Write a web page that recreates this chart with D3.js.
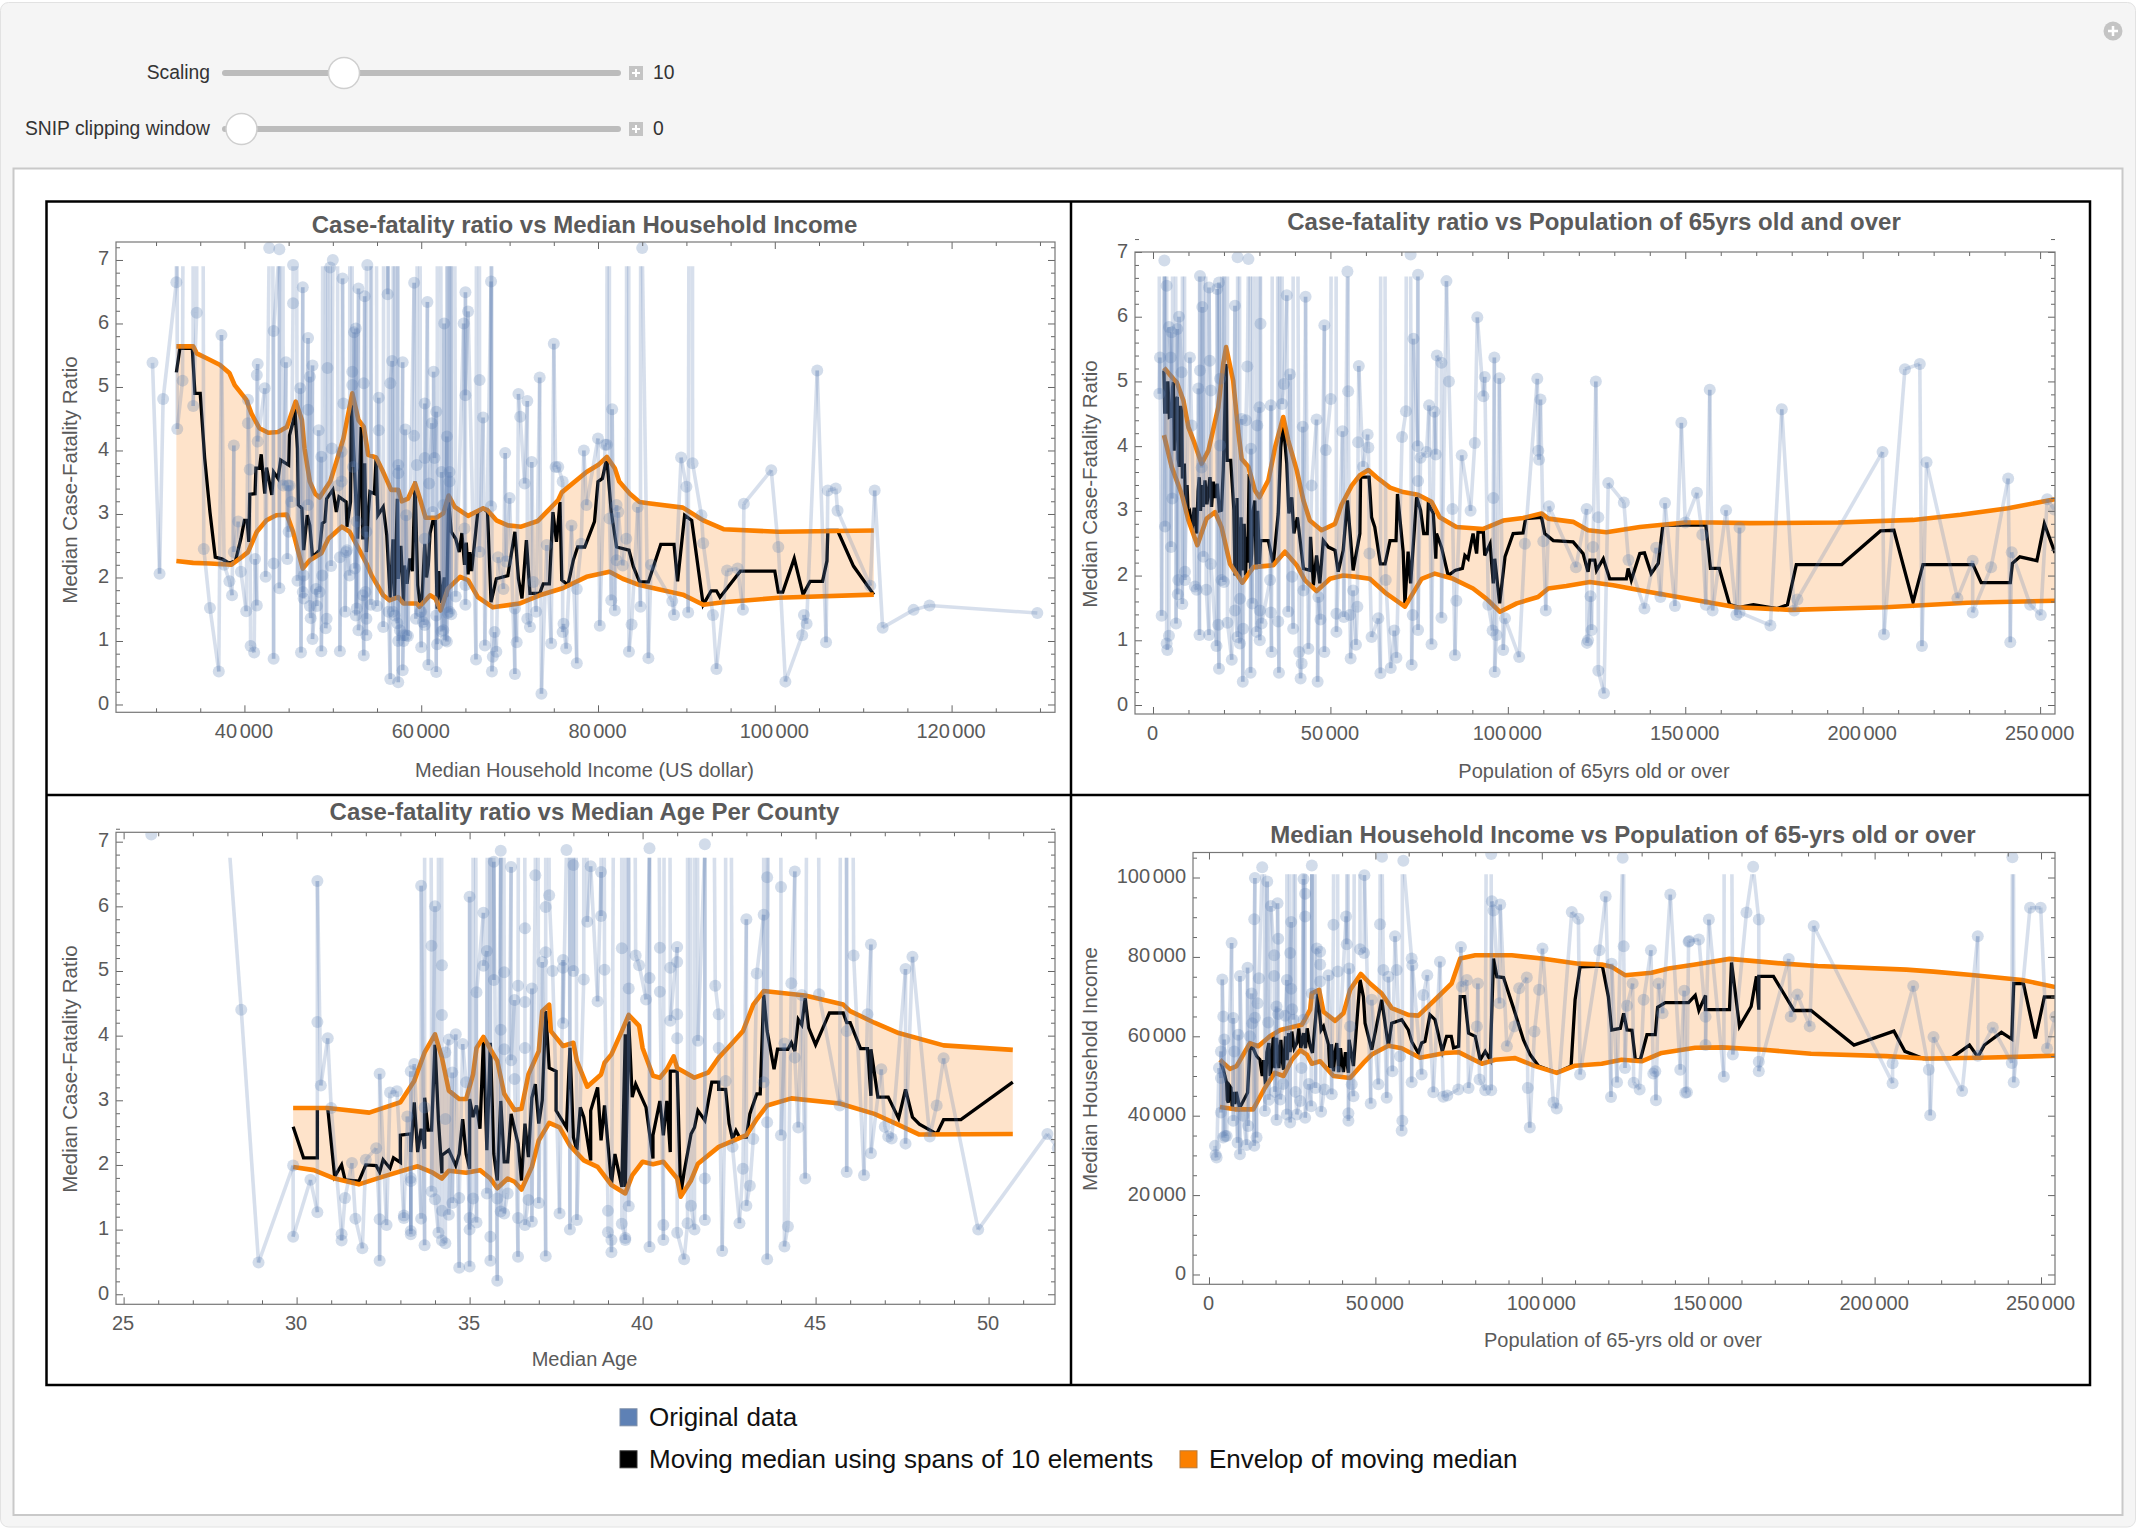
<!DOCTYPE html>
<html><head><meta charset="utf-8">
<script src="https://cdn.jsdelivr.net/npm/d3@7"></script>
<style>html,body{margin:0;padding:0;background:#fff}svg{display:block}text{font-family:"Liberation Sans",Arial,sans-serif}</style>
</head><body><svg id="c" width="2136" height="1532"></svg>
<script>
// ---------- Panel 1: case-fatality ratio vs median household income (x in thousand dollars)
const p1Original=[[29.6,5.38],[30.4,2.06],[30.8,4.81],[32.3,6.65],[32.4,4.34],[33,5.1],[34.2,4.7],[34.6,6.17],[35.4,2.45],[36.1,1.52],[37.1,.52],[37.4,5.82],[37.7,2.2],[38.3,1.94],[38.6,1.72],[38.8,4.08],[38.8,2.4],[39.3,2.88],[39.6,2.09],[40.2,1.47],[40.4,4.43],[40.6,3.7],[40.4,4.8],[40.7,.92],[41.1,.82],[41.2,2.29],[41.4,1.56],[41.4,5.19],[41.5,5.36],[41.5,4.14],[42.3,4.98],[42.4,2.01],[42.8,7.19],[43.3,.72],[43.3,2.22],[43.3,5.88],[43.95,7.17],[43.95,1.83],[44.4,3.45],[44.7,5.39],[44.85,2.29],[44.9,3.45],[45,2.72],[45.1,3.45],[45.3,3.19],[45.5,6.32],[45.5,6.92],[46,1.95],[46.3,4.98],[46.4,.82],[46.6,6.57],[46.6,1.77],[46.7,2.03],[46.7,1.67],[47.2,5.77],[47.2,4.64],[47.2,3.14],[47.4,5.16],[47.4,1.55],[47.5,1.36],[47.7,5.34],[47.7,1.03],[48.1,1.82],[48.2,1.55],[48.4,4.32],[48.5,1.77],[48.7,3.9],[48.7,.84],[48.8,2.03],[49.2,1.2],[49.3,1.35],[49.4,5.3],[49.7,6.88],[49.8,2.18],[50,7],[49.9,4.03],[50.6,3.45],[50.8,2.32],[50.8,.84],[51,3.98],[51,3.51],[51.1,6.71],[51.2,4.74],[51.4,1.46],[51.5,2.4],[51.6,2.43],[51.9,2.03],[52.2,5.24],[52.2,5.03],[52.3,3.74],[52.4,5.86],[52.5,2.14],[52.6,5.92],[52.6,1.4],[52.7,2.88],[52.7,1.51],[52.9,6.55],[52.9,1.17],[53.4,1.72],[53.5,.77],[53.5,5.06],[53.6,6.43],[53.7,1.77],[53.8,1.09],[53.8,2.72],[53.8,1.35],[53.9,6.92],[54.3,1.57],[55,1.55],[55.2,4.83],[55.2,4.32],[55.7,1.22],[56.2,6.46],[56.3,1.46],[56.5,.4],[56.5,5.06],[56.7,5.41],[56.8,1.46],[57,1.4],[57.3,1.28],[57.4,.35],[57.4,3.64],[57.4,3.77],[57.4,1],[57.6,1.17],[57.9,5.39],[57.9,.54],[58,1.09],[58,1],[58.2,4.33],[58.3,1.09],[58.3,2.98],[58.5,1.08],[59.2,6.64],[59.2,4.23],[59.4,1.35],[59.5,3.77],[59.9,1.46],[60,.9],[60,1.46],[60.2,1.3],[60.4,4.74],[60.4,3.88],[60.4,1.25],[60.4,2.61],[60.7,6.34],[60.8,.62],[60.9,3.48],[61.2,4.43],[61.3,3.03],[61.4,5.24],[61.5,3.88],[61.7,4.61],[61.7,.51],[61.7,1.4],[61.8,.95],[62.3,1.15],[62.3,3.66],[62.5,3.14],[62.5,1.17],[62.6,6],[62.7,1.01],[62.9,4.22],[62.9,.99],[63,1.44],[63.2,3.66],[63.2,3.51],[63.2,1.46],[63.4,1.42],[63.9,1.7],[64.8,6],[64.9,2.77],[65,1.88],[65,1.57],[65,6.49],[65,4.87],[65.3,6.19],[66.2,.71],[66.6,5.11],[66.6,2.4],[67,4.52],[67.2,.93],[67.9,6.66],[67.9,3.12],[68,.52],[68.1,.75],[68.3,1.14],[68.5,.83],[68.7,2.32],[69.3,1.82],[69.5,3.96],[69.6,2.25],[70,3.25],[70.6,.48],[70.6,1.51],[70.8,.98],[71,4.89],[71.2,4.53],[71.7,3.48],[72,4.78],[72,1.35],[72.5,3.82],[72.3,1.22],[72.7,1.93],[73,1.46],[73.4,5.15],[73.6,.17],[74.2,2.51],[74.7,.96],[75,5.68],[75.2,3.74],[75.5,3.74],[76,3.51],[76,1.14],[76.1,1.27],[76.4,.88],[77,2.82],[77.6,.65],[77.6,1.82],[78.1,2.53],[78.4,4],[78.7,3.14],[80,4.19],[80.2,1.24],[80.8,4.09],[81,4.09],[81.3,2.93],[81.5,1.64],[81.6,4.65],[81.9,1.48],[82.1,3.14],[82.1,2.27],[82.3,3.03],[82.8,2.19],[83.2,2.61],[83.5,.83],[83.8,1.26],[84.5,3.11],[84.8,1.54],[85,7.19],[85.7,.73],[86,2.2],[88.4,1.63],[88.6,1.41],[89.4,3.89],[90,3.43],[90.2,1.45],[90.7,3.8],[91.7,2.98],[91.9,2.54],[93,1.41],[93.4,.56],[94.6,2.11],[95.8,2.14],[96.4,1.49],[96.5,3.16],[99.6,3.69],[100.4,2.48],[101.2,.36],[103.1,1.09],[103.3,1.41],[103.6,1.27],[104.8,5.26],[105.8,.98],[106,3.37],[106.9,3.4],[107.1,3.05],[110.8,1.87],[111.3,3.37],[112.2,1.21],[115.7,1.49],[117.5,1.56],[129.7,1.44]];
const p1Spikes=[32.3,33.5,34.1,34.6,35,42.9,44.1,45.5,49.1,49.5,50.1,52,53.8,53.9,54,54.1,54.7,55.9,56.2,56.9,57.3,59.8,61.9,62.9,63.2,63.4,66.4,67.9,81.2,83.4,84.9,90.6];
const p1Median=[[32.3,5.23],[32.7,5.61],[34.1,5.61],[34.4,4.9],[35,4.9],[35.5,3.88],[36.1,3.03],[36.7,2.32],[37.5,2.29],[38.3,2.22],[39,2.27],[39.6,2.61],[40,2.9],[40.3,2.9],[40.5,2.56],[40.6,3.31],[41.2,3.32],[41.3,3.72],[41.7,3.72],[41.9,3.94],[42.3,3.32],[42.5,3.73],[43.1,3.3],[43.3,3.66],[43.8,3.56],[44.1,3.85],[45,3.77],[45.1,4.24],[45.5,4.45],[45.7,4.66],[46,4.03],[46.1,3.14],[46.5,3.09],[46.7,2.43],[47.1,2.98],[47.4,2.82],[47.7,2.32],[48.5,2.43],[48.8,2.85],[49.1,2.88],[49.3,3.24],[50,3.38],[50.4,3.03],[50.7,3.27],[51.5,3.19],[51.6,2.8],[52,3.19],[52.1,4.72],[52.4,3.88],[52.8,2.61],[53.2,4.37],[53.4,2.6],[53.6,3.8],[53.8,2.4],[54,3],[54.2,3.35],[54.7,3.32],[54.9,3.88],[55.1,2.98],[55.7,3.11],[56.1,2.67],[56.5,1.67],[56.8,2.6],[57,1.7],[57.3,3.24],[57.4,1.98],[57.7,2.5],[58,1.61],[58.1,2.19],[58.4,1.9],[58.7,2.3],[59,2.1],[59.3,3.51],[59.6,1.88],[59.9,1.54],[60.1,1.7],[60.4,2.53],[60.6,2],[60.8,2.19],[61,2.7],[61.3,2.88],[61.6,2.88],[61.8,1.51],[62,2.1],[62.3,1.6],[62.6,2],[62.9,1.7],[63.1,3.19],[63.4,2.72],[63.9,2.61],[64.3,2.4],[64.6,2.7],[64.9,2.2],[65.1,2.55],[65.3,2.05],[65.5,2.4],[65.7,2.1],[66.4,3.03],[67,3.09],[67.5,3.03],[67.9,1.61],[68.5,1.98],[69.8,2.03],[70.6,2.72],[71,1.98],[71.4,1.67],[71.9,2.59],[72.3,1.75],[73.4,1.75],[73.8,1.9],[74.5,1.9],[74.9,3.03],[75.3,2.56],[75.7,3.19],[75.9,1.96],[76.6,1.88],[77.2,2.27],[77.7,2.48],[78.5,2.48],[79.6,2.88],[80,3.51],[80.5,3.56],[81,3.88],[81.5,3.03],[82.1,2.48],[83.5,2.43],[84,2.17],[84.7,1.93],[85.7,1.93],[87.1,2.52],[88.6,2.52],[89,1.94],[89.8,2.98],[90.6,2.9],[91.9,1.57],[92.8,1.79],[93.4,1.79],[93.8,1.69],[96.1,2.1],[100,2.1],[100.4,1.77],[100.9,1.77],[102.2,2.3],[103.2,1.73],[104,1.94],[105.4,1.94],[105.9,2.26],[106,2.74],[107.1,2.74],[108.9,2.18],[111.2,1.73]];
const p1Upper=[[32.3,5.64],[34.2,5.64],[34.6,5.53],[35.9,5.44],[37.2,5.35],[38.3,5.22],[38.9,5.03],[40.2,4.8],[40.8,4.58],[41.7,4.35],[42.7,4.28],[43.8,4.29],[44.8,4.37],[45.8,4.77],[46.5,4.48],[46.8,4.03],[47.4,3.51],[48,3.32],[48.5,3.26],[49.7,3.51],[50.4,3.82],[51.2,4.19],[52.2,4.9],[52.9,4.48],[53.5,4.37],[54,3.93],[54.9,3.89],[55.7,3.66],[56.6,3.38],[57.4,3.38],[57.8,3.2],[58.5,3.24],[59.3,3.48],[59.9,3.22],[60.5,2.94],[61.7,2.94],[62.5,3.01],[63.1,3.29],[63.8,3.11],[65.3,2.97],[67,3.09],[67.5,3.06],[68.5,2.9],[69.8,2.82],[71.3,2.8],[73.2,2.89],[75.5,3.22],[75.9,3.34],[78.7,3.66],[80,3.77],[81,3.9],[81.9,3.72],[82.4,3.51],[83.6,3.32],[84.7,3.19],[85.7,3.17],[89.6,3.1],[91.9,2.9],[94.2,2.76],[100.4,2.72],[111.2,2.74]];
const p1Lower=[[32.3,2.26],[34.2,2.23],[36.1,2.22],[38.5,2.2],[39.5,2.3],[40.4,2.4],[41.4,2.72],[42.5,2.9],[43.6,2.98],[44.8,2.99],[45.5,2.72],[46.1,2.4],[46.6,2.14],[47.4,2.27],[48.7,2.38],[49.5,2.61],[51,2.8],[51.9,2.72],[52.9,2.46],[53.8,2.22],[54.4,2.03],[55.7,1.72],[56.4,1.64],[57.4,1.69],[58,1.59],[59.5,1.59],[59.8,1.54],[61,1.72],[61.6,1.67],[62.2,1.48],[63,1.82],[64.4,2.01],[65.3,1.96],[66.4,1.69],[68.1,1.53],[71.1,1.59],[73.4,1.72],[76,1.83],[78.7,2.01],[81.3,2.09],[82.8,1.98],[84.7,1.88],[85.7,1.85],[89.6,1.73],[91.9,1.57],[94.2,1.61],[100.4,1.68],[111.2,1.73]];
// ---------- Panel 2: case-fatality ratio vs population 65+ (x in thousands)
const p2Original=[[1.97,5.37],[1.79,4.81],[2.44,1.38],[3.2,6.87],[3.38,2.76],[3.85,6.48],[3.85,.95],[4.04,.85],[4.5,1.07],[4.5,5.84],[5,5.37],[5.07,2.44],[5.26,5.76],[5.45,3.19],[6.5,1.26],[6.86,5.81],[7,1.71],[7.14,1.93],[7.33,6],[8.08,5.14],[8.27,1.56],[9,1.93],[9,2.06],[10.4,5.37],[10.9,4.32],[11.8,1.83],[12.3,1.78],[12.8,4.89],[13.1,1.08],[13.25,6.63],[13.25,5.17],[13.7,3.67],[13.9,6.15],[14.2,2.29],[15,1.78],[15.8,1.08],[15.8,6.45],[16,5.32],[16.3,4.86],[16.3,2.18],[17.9,.91],[18.1,6.43],[18.4,1.24],[18.6,.56],[18.6,6.53],[18.9,5.04],[18.9,4.01],[19.3,1.93],[20,1.9],[21,1.27],[22.2,.7],[23.1,6.17],[23.1,1.46],[23.8,1.05],[23.85,6.92],[24.5,.95],[24.5,1.64],[25,4.42],[25.3,.36],[25.4,1.18],[26.2,4.4],[26.6,5.23],[26.9,6.89],[27.5,.5],[27.6,3.96],[28,1.57],[29.2,1.13],[29.4,4.32],[30,4.6],[30.1,1],[30.1,1.46],[30.3,5.89],[30.6,1.26],[33,1.93],[33.2,4.63],[33.2,1.43],[33.4,.82],[35.3,1.29],[35.5,.5],[36.4,4.65],[36.9,4.96],[37.7,6.33],[38.1,1.44],[38.6,5.11],[39.2,1.98],[39.5,1.18],[41.2,.82],[41.6,.41],[41.9,.64],[42.2,4.3],[42.4,1.77],[43,6.31],[43.8,.87],[44.7,3.39],[46.1,4.41],[46.4,.36],[46.6,1.67],[47.2,1.32],[48.3,5.87],[48.3,.82],[48.7,3.94],[50.1,4.73],[51.7,1.41],[51.7,1.13],[53.4,4.23],[53.8,1.36],[54.8,6.7],[55,4.85],[55.5,1.39],[55.7,.72],[56.4,1.77],[57.2,.93],[57.6,1.52],[57.8,4.06],[58,5.24],[59.2,3.68],[60.5,4.18],[60.7,3.98],[61,2.34],[61.6,1.05],[63.5,1.34],[64.1,.49],[65.6,1.93],[67,.57],[68,1.15],[68.6,.73],[70.2,4.14],[71.3,4.54],[72.6,6.96],[72.9,.62],[73.2,1.39],[73.4,5.66],[74.6,4],[74.7,6.65],[74.7,3.46],[74.7,1.16],[75.4,3.82],[77.1,3.91],[77.8,4.63],[78.5,.94],[79.3,4.53],[79.7,3.87],[80,5.4],[81.3,5.29],[81.3,1.35],[82.7,6.55],[83.4,5],[84.4,3.03],[85.1,.77],[85.5,1.61],[87,3.86],[89.5,3],[90.7,4.05],[91.4,5.99],[93.1,4.77],[93.5,5.07],[94.5,1.55],[95.7,1.15],[95.9,3.2],[96.2,5.37],[96.3,.51],[96.8,1.08],[97.6,5.05],[98.7,.85],[99.2,1.34],[103.2,.74],[104.8,2.49],[108.3,5.04],[108.6,3.93],[108.8,3.79],[109.2,4.72],[110,2.53],[110.7,1.46],[111.6,3.07],[119.2,2.13],[122.2,3.03],[122.3,.96],[122.6,1],[123.3,1.68],[123.6,1.16],[124,2.44],[124.8,5],[125.5,2.9],[125.5,.53],[127.1,.18],[128.3,3.43],[132.7,3.13],[134,2.24],[138.5,1.49],[141.8,2.43],[143,1.67],[144.3,3.12],[147.1,1.53],[148.9,4.36],[150,2.82],[153.3,3.28],[154.8,2.63],[155.8,1.55],[156.9,4.87],[157.7,1.46],[161.5,3.01],[164.4,1.39],[165.3,2.74],[165.3,1.43],[174,1.23],[177.2,4.57],[180.7,1.46],[181.6,1.63],[205.6,3.91],[206,1.09],[211.9,5.19],[216.1,5.27],[216.7,.91],[218,3.75],[226.7,1.65],[231,2.23],[231,1.43],[236.2,2.13],[241,3.5],[241.6,.97],[242,2.36],[247.2,1.55],[250.2,1.39],[252,3.18],[254,3.02]];
const p2Spikes=[1.7,3.4,6,8.4,13.2,14.2,19.8,20.9,24,26.9,28.6,30.2,34.4,36.3,39.5,51.2,54.9,64.4,72.2,74.6];
const p2Median=[[3.1,5.17],[3.3,4.5],[3.6,5],[3.85,4.5],[4.2,5],[4.6,4.45],[5.26,4.47],[5.5,4.9],[5.73,4.99],[6,3.93],[6.4,4.7],[6.86,4.76],[7.1,3.8],[7.4,3.68],[7.7,4.6],[8.08,4.6],[8.3,3.5],[8.83,3.73],[9.2,3],[9.6,3.4],[9.96,2.9],[10.4,2.96],[11,2.7],[11.6,3.05],[12.3,2.65],[12.7,3.3],[13.05,3.52],[13.4,3],[13.8,3.4],[14.2,3.06],[14.65,3.47],[15.2,3.1],[16.06,3.52],[16.5,3.06],[17,3.45],[17.5,3.2],[18.1,3.42],[18.7,3],[19.3,3.01],[19.8,3.63],[20.6,5.27],[20.9,3.78],[21.9,3.78],[22.8,3.01],[23.1,2],[23.4,2.24],[23.7,3.2],[24,2],[24.5,1.95],[24.8,2.9],[25,2.24],[25.4,2.08],[25.7,2.8],[26.1,2],[26.4,2.6],[26.7,2.2],[27.1,3.57],[27.5,2.1],[27.8,2.34],[28.2,3],[28.7,3.16],[29.1,2.1],[29.5,3],[30,2.18],[30.3,2.54],[32.5,2.54],[33.9,2.18],[35.3,2.96],[36,3.98],[36.7,4.35],[37.7,3.73],[38.3,2.96],[39.1,3.21],[39.7,2.65],[40.7,2.9],[42.4,2.11],[44.2,2.08],[44.4,2.6],[45.2,1.85],[46.1,2.31],[47,1.88],[48,2.54],[49.4,2.44],[51.3,2.39],[52.2,2.06],[53.6,2.39],[54.8,3.16],[56.4,2.08],[58.3,2.65],[58.5,3.52],[60.9,3.52],[61.6,2.9],[62.5,2.75],[64.1,2.18],[65.4,2.18],[66.8,2.54],[68.5,2.54],[68.9,3.26],[70.5,2.37],[71,1.57],[71.9,2.37],[72.6,1.88],[74.3,3.21],[75.4,3.01],[76.3,2.65],[77.3,2.65],[77.6,3.11],[79,2.96],[79.7,2.26],[79.9,2.65],[81.3,2.44],[83.2,2],[85.1,2.08],[87.2,2.11],[87.9,2.31],[88.8,2.26],[90.2,2.65],[91.2,2.34],[91.6,2.67],[93.1,2.67],[93.5,2.31],[95,2.49],[95.9,1.88],[96.3,2.26],[97.7,1.57],[99.2,2.29],[101.5,2.65],[104.3,2.66],[105,2.88],[109.5,2.9],[110.4,2.65],[112.8,2.54],[118.4,2.52],[121.2,2.34],[122.6,2.06],[123.1,2.24],[124.5,2.24],[125,2.08],[126.9,2.26],[128.7,1.95],[133.4,1.95],[133.9,2.11],[134.8,1.93],[137.2,2.34],[138.5,2.35],[140.4,2.03],[142.4,2.19],[143.7,2.78],[155.8,2.78],[157.1,2.11],[159.6,2.11],[162.5,1.55],[165.3,1.51],[169.2,1.55],[175.9,1.49],[178.8,1.55],[181.3,2.17],[194.1,2.17],[205,2.69],[208.8,2.7],[214.2,1.59],[217,2.17],[231.1,2.17],[233.4,1.89],[241.6,1.89],[242.2,2.19],[244.3,2.29],[249.1,2.23],[251.2,2.8],[254.2,2.35]];
const p2Upper=[[3.1,5.21],[5.73,5.04],[6.67,4.99],[8.55,4.71],[10,4.29],[11.4,4.09],[13.7,3.73],[15.6,3.93],[18.4,4.6],[19.8,5.27],[20.6,5.53],[22.6,5.01],[24,4.24],[25,3.8],[26.9,3.68],[28.7,3.32],[30,3.21],[32.5,3.47],[34.4,3.98],[36.7,4.45],[38.1,4.09],[40.5,3.63],[42.4,3.16],[44.2,2.85],[47.5,2.7],[51.3,2.8],[53.1,3.09],[56,3.39],[58.3,3.55],[60.7,3.63],[63,3.52],[66.8,3.36],[70.5,3.29],[74.7,3.25],[78.5,3.14],[80.8,2.9],[85.5,2.75],[93.1,2.72],[98.7,2.85],[104.3,2.89],[109.5,2.96],[111.4,2.88],[118.4,2.83],[122.6,2.7],[127.8,2.67],[137.2,2.75],[150,2.82],[157.7,2.82],[168.2,2.81],[193.1,2.82],[214.2,2.86],[227.6,2.94],[241,3.04],[254.2,3.18]];
const p2Lower=[[3.1,4.17],[5.26,3.68],[8.08,3.26],[10,2.85],[12.5,2.47],[15.1,2.88],[17.5,2.98],[19.3,2.75],[21.7,2.18],[25.2,1.89],[28.3,2.13],[33.9,2.16],[37.2,2.37],[40.5,2.16],[42.8,1.93],[46.1,1.76],[49.9,1.95],[53.6,2],[57.4,1.98],[61.1,1.95],[65.8,1.72],[71,1.52],[75.7,1.95],[79.4,2.03],[84.6,1.95],[90.2,1.8],[94,1.64],[97.8,1.44],[102.5,1.57],[108.5,1.67],[111.4,1.8],[116.5,1.84],[123.1,1.9],[129.7,1.85],[139.5,1.75],[164.4,1.51],[179.7,1.47],[206.5,1.51],[229.5,1.58],[254.2,1.61]];
// ---------- Panel 3: case-fatality ratio vs median age
const p3Original=[[25.8,7.11],[27.9,8],[28.4,4.4],[28.9,.49],[29.9,1.99],[29.9,.89],[30.4,1.77],[30.6,1.27],[30.6,4.21],[30.6,6.39],[30.7,3.23],[30.9,3.96],[31,2.88],[31.3,.93],[31.3,.83],[31.4,1.49],[31.6,2.03],[31.7,1.17],[31.9,.71],[32,2.08],[32.3,2.26],[32.4,1.16],[32.4,.52],[32.4,3.41],[32.6,1.07],[32.7,3.12],[32.9,3.14],[33.1,1.18],[33.1,1.22],[33.2,2.75],[33.3,1.75],[33.3,.93],[33.3,3.45],[33.3,.98],[33.3,1.8],[33.4,3.56],[33.6,1.17],[33.6,6.32],[33.7,.76],[33.7,2.89],[33.9,5.39],[33.9,1.59],[34,6],[34,1.47],[34.1,.95],[34.2,5.09],[34.2,4.32],[34.2,1.29],[34.2,.83],[34.3,.79],[34.3,2.71],[34.3,3.74],[34.4,3.94],[34.4,1.23],[34.5,3.43],[34.5,1.41],[34.6,4.02],[34.7,.41],[34.7,1.49],[34.8,3.87],[34.9,3.28],[35,1],[35,6.15],[35,.43],[35,1.18],[35.1,1.48],[35.2,1.11],[35.2,4.67],[35.4,5.9],[35.4,5.08],[35.5,5.31],[35.5,1.56],[35.6,.89],[35.6,.52],[35.7,4.86],[35.7,6.69],[35.8,.21],[35.8,1.48],[35.9,6.86],[35.9,4.09],[35.9,1.28],[36,4.98],[36,3.79],[36,1.25],[36.1,1.56],[36.2,6.61],[36.2,3.62],[36.3,4.55],[36.3,3.33],[36.4,.58],[36.4,1.18],[36.4,4.77],[36.6,5.66],[36.6,4.52],[36.6,3.81],[36.6,1.07],[36.7,1.46],[36.8,4.73],[36.8,1.12],[36.9,6.48],[37,1.41],[37.1,5.14],[37.2,.59],[37.2,5.29],[37.2,5.99],[37.3,6.17],[37.4,5],[37.6,1.25],[37.7,5.17],[37.7,5.05],[37.7,4.19],[37.8,6.87],[37.9,1],[38,6.64],[38,5],[38.1,1.15],[38.3,4.87],[38.4,5.76],[38.5,6.62],[38.7,4.53],[38.8,6.53],[38.8,5.85],[38.9,5.02],[39,1.29],[39,.96],[39.1,.84],[39.1,.65],[39.4,5.35],[39.4,1.09],[39.5,.87],[39.5,.84],[39.6,4.73],[39.6,1.36],[39.8,5.24],[39.9,5.09],[40.1,4.56],[40.2,6.9],[40.2,4.89],[40.2,.73],[40.5,5.36],[40.5,4.68],[40.6,1.07],[40.6,.84],[40.8,5.05],[40.8,4.23],[41,5.37],[41,5.14],[41,4.33],[41,3.96],[41,.95],[41.2,.54],[41.3,1.1],[41.4,1.37],[41.5,1],[41.6,3.92],[41.8,6.96],[41.8,1.15],[41.8,1.79],[42.1,4.77],[42.2,4.33],[42.2,3.81],[42.3,.67],[42.4,3.3],[42.6,2.28],[42.8,1.1],[42.9,1.94],[43,5.8],[43,1.37],[43.1,1.68],[43.2,2.4],[43.3,4.96],[43.5,5.87],[43.5,3.28],[43.6,6.45],[43.6,.54],[43.6,2.66],[44,6.3],[44,2.46],[44.1,3.88],[44.1,.74],[44.2,1.05],[44.3,4.81],[44.4,6.54],[44.4,3.66],[44.5,2.58],[44.6,4.63],[44.7,1.79],[45.1,4.64],[45.7,2.92],[45.9,4.07],[45.9,1.89],[46.1,5.24],[46.4,1.84],[46.5,4.33],[46.6,5.41],[46.6,2.18],[46.9,3.48],[47,2.59],[47.1,2.44],[47.2,2.41],[47.6,5.03],[47.6,2.33],[47.8,5.22],[48.3,2.44],[48.5,2.92],[48.7,3.65],[49.7,1],[51.7,2.48],[52,2.26]];
const p3Spikes=[33.7,34.1,35.1,35.55,35.65,35.9,36.5,36.9,37.2,37.85,37.9,38,38.3,38.8,39.35,39.5,39.6,40.2,40.7,41.3,41.5,41.8,42.4,43.5,43.8,44.9,45,45.8,45.9];
const p3Median=[[29.9,2.59],[30.2,2.11],[30.6,2.11],[30.6,2.88],[30.9,2.88],[31.1,1.82],[31.3,2],[31.4,1.77],[31.8,1.75],[32,2],[32.3,1.99],[32.4,1.89],[32.5,2.08],[32.7,1.95],[32.8,2.11],[33,2.04],[33,2.46],[33.3,2.48],[33.3,2.2],[33.4,2.97],[33.5,2.2],[33.6,2.56],[33.7,2.25],[33.7,3.04],[33.8,2.54],[33.9,2.54],[34,3.86],[34.1,2.69],[34.2,1.87],[34.2,2.15],[34.4,2.23],[34.6,1.99],[34.7,2.17],[34.8,2.71],[34.9,2.17],[35,1.94],[35,3.02],[35.1,2.74],[35.2,2.92],[35.3,2.56],[35.4,3.92],[35.5,2.23],[35.6,3.89],[35.7,2.17],[35.8,1.76],[35.9,2.99],[36,2.05],[36.1,2.05],[36.2,2.79],[36.4,2.33],[36.5,1.76],[36.6,2.64],[36.7,2.12],[36.8,3.04],[36.9,3.25],[37,2.64],[37.1,3],[37.2,4.38],[37.3,3.5],[37.5,3.45],[37.5,2.84],[37.8,2.58],[37.9,3.81],[38,2.43],[38.1,2.23],[38.2,2.89],[38.3,2.74],[38.5,2.07],[38.5,2.84],[38.7,3.2],[38.8,2.38],[38.9,2.92],[39.1,1.71],[39.2,2.17],[39.4,1.66],[39.5,4.02],[39.5,1.66],[39.6,4.22],[39.7,3.05],[39.8,3.25],[40.1,2.89],[40.3,2.1],[40.3,2.46],[40.5,2.99],[40.6,2.46],[40.7,2.99],[40.8,2.2],[40.8,3.45],[41,3.45],[41.1,1.53],[41.2,1.89],[41.4,2.48],[41.5,2.58],[41.6,2.84],[41.8,2.69],[42,3.28],[42.2,3.28],[42.2,3.17],[42.4,3.17],[42.5,2.64],[42.6,2.4],[42.7,2.53],[42.8,2.43],[43,2.43],[43.1,2.79],[43.3,3.1],[43.4,3.1],[43.5,4.63],[43.6,4.07],[43.8,3.48],[43.9,3.79],[44.2,3.79],[44.3,3.89],[44.4,3.76],[44.5,4.25],[44.6,4.17],[44.7,4.58],[44.8,4.12],[45,3.86],[45.4,4.35],[45.8,4.35],[45.9,4.2],[46,4.2],[46.3,3.8],[46.5,3.8],[46.6,3.07],[46.6,3.79],[46.8,3.05],[47.1,3.05],[47.4,2.72],[47.6,3.17],[47.8,2.74],[48,2.63],[48.5,2.48],[48.7,2.7],[49.2,2.7],[50.7,3.28]];
const p3Upper=[[29.9,2.88],[30.9,2.88],[32.1,2.81],[33,2.97],[33.4,3.3],[33.7,3.74],[34,4.02],[34.2,3.66],[34.4,3.15],[34.7,3.02],[34.9,3.02],[35.1,3.4],[35.2,3.81],[35.4,3.98],[35.6,3.79],[35.8,3.61],[36,3.1],[36.3,2.85],[36.5,2.87],[36.7,3.4],[37,3.76],[37.1,4.38],[37.3,4.48],[37.35,4.07],[37.7,3.84],[38,3.89],[38.1,3.61],[38.4,3.21],[38.8,3.4],[38.9,3.58],[39.1,3.71],[39.4,4.07],[39.6,4.32],[39.9,4.15],[40,3.81],[40.3,3.38],[40.5,3.35],[40.7,3.48],[40.9,3.68],[41,3.5],[41.5,3.35],[41.9,3.43],[42.2,3.66],[42.6,3.89],[42.9,4.07],[43.2,4.48],[43.5,4.69],[44.7,4.62],[45.8,4.48],[46,4.38],[46.7,4.2],[47.4,4.04],[48.7,3.85],[50.7,3.78]];
const p3Lower=[[29.9,1.97],[30.5,1.92],[31.1,1.79],[31.8,1.7],[32.5,1.82],[33.3,1.95],[33.5,1.98],[33.9,1.89],[34.2,1.79],[34.4,1.91],[34.9,1.88],[35.3,1.92],[35.6,1.79],[35.8,1.64],[36.1,1.79],[36.3,1.74],[36.5,1.62],[36.8,1.97],[37,2.38],[37.3,2.65],[37.6,2.58],[37.9,2.3],[38.3,2.07],[38.7,1.97],[39.1,1.69],[39.5,1.56],[39.7,1.84],[40,2.05],[40.3,2.01],[40.6,2.05],[41,1.79],[41.1,1.51],[41.4,1.76],[41.6,2.02],[42.2,2.28],[43,2.46],[43.3,2.71],[43.6,2.92],[44.3,3.03],[45.7,2.95],[46.7,2.79],[47.4,2.62],[48,2.47],[50.7,2.48]];
// ---------- Panel 4: median household income vs population 65+ (both in thousands)
const p4Original=[[1.8,32.4],[2,30.1],[2.3,29.5],[3,52],[3.6,49.5],[3.6,56.2],[3.6,40.8],[4,74.3],[4.3,65],[4.3,34.5],[4.6,59.2],[4.8,34.9],[5.3,34.9],[6.8,83.5],[7.3,38.7],[7.3,64.6],[7.6,56.2],[8.6,33.2],[8.8,60.4],[9.3,30.3],[9.3,75.2],[10.3,40],[11.3,32.6],[11.6,77.3],[11.8,37.4],[12.3,60],[12.8,70.8],[13,63.3],[13.6,32.4],[13.6,89.5],[13.8,99.9],[13.8,64.7],[14.3,34.5],[14.6,68.3],[15,74.6],[16,102.6],[16.8,41.2],[17.5,99],[17.8,63.5],[18,44],[18.6,92.8],[19.6,80.4],[19.6,75.2],[19.8,46],[20.3,67.5],[20.3,38.9],[20.6,93.5],[20.8,84.6],[20.8,65.6],[21.4,44.1],[22.3,48],[22.9,65.2],[23.4,74.2],[23.4,40.3],[24.4,38.3],[24.4,81],[24.7,88.8],[24.7,72],[25,66.8],[25.4,64.2],[26,46],[26.4,40.3],[27.4,43.7],[27.8,52],[28.4,99.6],[28.4,64.2],[28.9,95.9],[28.9,90.2],[28.9,39.5],[30,48],[30.7,42.4],[30.9,103],[30.9,70.8],[32,47],[32.4,82.1],[33.4,81.3],[33.4,78.1],[33.4,73.8],[33.7,41],[34.7,46.6],[35.9,75.4],[36.9,45.4],[37.4,88.1],[38.7,76.3],[38.7,51],[41.2,90.2],[41.4,83.2],[41.9,40.6],[41.9,38.7],[42.1,77.1],[42.4,62.5],[42.9,47.9],[43.4,44.9],[45.4,81.9],[46.6,81],[46.7,100.6],[48.6,43.1],[48.9,69.2],[50.9,47.9],[51.4,88.2],[52,105.2],[52.4,76.7],[53.4,44.5],[53.9,75],[55.1,51.2],[55.9,85.2],[56.4,76.7],[57.4,55],[57.9,36.2],[58.1,38.7],[58.4,104.2],[60.9,79.6],[60.9,48.4],[61.1,77.9],[63.9,50.4],[64.4,70.4],[65.6,75.4],[67.4,45.9],[69.4,78.8],[70.4,44.8],[71.6,45.1],[74.9,46.6],[75.7,82.5],[76,72.5],[77.5,74.2],[78,47],[80.5,62.5],[80.8,73.3],[81.3,49.1],[83,46.4],[84.8,105.9],[84.8,46.4],[85,94],[85.5,91.7],[87.3,68.3],[87.5,93.2],[89.5,57.5],[91.8,62.5],[93.2,72.1],[95.5,74.8],[95.8,47],[96.4,37],[97.8,61.2],[99.2,71.7],[100.2,82.1],[103.5,43.3],[104.5,41.8],[109,91.3],[111,89.6],[111.5,50.4],[117.3,81.7],[119.2,95.2],[120.8,44.7],[121,78.3],[122.6,48.4],[124.3,105],[124.6,82.7],[125,52],[125.6,67.7],[127.3,73.3],[127.6,48.3],[129.4,46.6],[130.6,69.2],[132.8,81.7],[133.5,50.6],[134.1,51.2],[134.3,43.9],[135.1,73.3],[136.3,65.8],[138.6,95.7],[141.6,51.6],[142.8,71.5],[143.1,45.8],[143.6,45.9],[144.1,83.8],[144.3,84],[147.2,84.4],[149.2,64.9],[149.2,57.8],[150.2,89.4],[154.7,49.8],[157.4,55.4],[161.5,91.2],[163.5,102.7],[165.2,89.4],[165.2,53.6],[165.2,51.2],[174.2,79.5],[174.8,64.9],[176.8,70.5],[180.5,62.5],[181.7,87.8],[205.4,48.2],[205.4,53.2],[211.6,72.7],[216.3,51.6],[216.7,40.1],[217.7,59.8],[226.3,46.2],[231,85.2],[231,55.1],[235.5,62.2],[241.2,53.3],[241.4,105.1],[241.8,48.4],[246.7,92.4],[249.9,92.4],[251.8,56.9],[254.3,64.9]];
const p4Spikes=[16,23.4,25.5,28.4,30.9,38.1,41.4,44.9,51.9,58.1,84.7,124.3,155.3,241.4];
const p4Median=[[3.6,53.3],[4.3,51.6],[5.3,48.3],[5.5,44],[5.8,43.3],[6.2,47.5],[6.6,47],[7,42],[7.4,46],[7.8,42.9],[8.2,46],[8.6,44.5],[9.2,42],[9.8,42.9],[11.6,45.8],[12.3,56.6],[13,57.5],[14.3,55],[15.3,54.1],[16,50],[16.4,54],[17,47.9],[17.4,56],[18,58.3],[18.4,50],[18.8,52.5],[19.3,60],[19.8,52],[20.3,59.6],[21,52],[21.6,59.1],[22,54],[22.4,51.6],[23,60],[23.5,54],[23.9,60.8],[24.4,56],[24.9,61.2],[25.6,57],[26.4,58.3],[27,62],[27.6,57],[28.4,60.8],[29,57],[29.5,62],[30.4,57.5],[31.1,55.8],[32.7,70.8],[33.7,61.6],[34.4,62.5],[35.9,57.9],[36.3,52],[36.8,58],[37.4,51.2],[37.9,56],[38.4,58.3],[39,51],[39.5,57],[39.9,54.1],[40.4,51],[41,56],[41.9,50.8],[42.1,59.1],[43.4,52.5],[45.4,74.2],[46.4,70],[46.9,63.3],[48.9,56.6],[51.9,69.2],[53.9,57.5],[54.9,63.3],[57.9,64.2],[59.9,61.6],[60.9,58.7],[62.9,55.8],[63.9,58.3],[64.9,58.7],[66.4,65.4],[67.9,64.2],[70.1,56.2],[71.4,60],[72.8,60],[73.5,57.1],[75,57.5],[75.5,70],[76.8,70],[78,60.8],[80,60],[81.5,54.1],[83,56.2],[84.5,54.1],[85.5,79.6],[86.5,75],[88.5,74.8],[91.5,67.1],[94.5,59.1],[96.5,55.4],[99,52.5],[104.5,50.8],[108.8,52.5],[110,69.2],[111.5,77.5],[118.2,77.7],[120,70],[121,61.6],[123.6,62],[124.6,65.8],[125.6,61.6],[127.1,61.5],[128.1,54.1],[129.6,54.1],[131.6,60.4],[134.1,60.4],[134.8,67.3],[137.1,68.5],[144.1,68.5],[146.1,70.3],[147.2,66.5],[149.2,70.3],[149.2,66.7],[156.4,66.7],[157,78.6],[159.4,62.5],[162.9,67.5],[164.5,75.1],[165.2,66.7],[165.2,75.1],[169.6,75.1],[175.8,66.5],[180.9,66.5],[193.8,57.8],[205.8,61.3],[209.1,56.2],[214.6,54.4],[222.8,54.4],[228.5,57.8],[231,54.8],[233,57.8],[238.1,61],[241.2,59.3],[241.8,73.3],[244.7,73.3],[248.3,59.5],[251,69.9],[254.3,69.9]];
const p4Upper=[[3.3,54.1],[4.3,53.3],[6.3,51.8],[8.3,52.5],[12.3,58.3],[14.8,57.5],[18.3,60],[21.4,61.6],[27.9,62.9],[30.4,66.7],[30.9,70.8],[33.1,71.7],[34.4,66.2],[37.9,63.9],[40.4,65.8],[42.4,71.7],[45.6,75.7],[48.4,73.3],[51.9,70.8],[54.9,67.1],[59.9,65.4],[62.9,65.2],[67.9,69.2],[72.9,73.3],[75.5,79.6],[80,80.4],[91,80.4],[100,79.6],[111,78.3],[118,78.1],[121,77.5],[125,75.4],[133,76],[138.1,77.1],[146.1,78.1],[156.4,79.5],[172.7,78.3],[182.9,77.7],[209.5,76.8],[217.7,76.3],[230,75.4],[244.3,74.2],[254.3,72.4]];
const p4Lower=[[3.3,42.2],[7.8,41.6],[13.3,41.6],[16.8,47],[19.8,50.8],[22.4,50],[24.9,54.1],[27.4,56.5],[29.4,55.4],[30.9,53.1],[33.4,53.7],[37.4,50],[42.4,49.5],[46.4,53.3],[48.9,55.4],[53.9,57.6],[57.9,57],[63.4,54.6],[70.9,55.8],[75,56],[82,53.1],[86,54.1],[92,54.5],[98,52.5],[104.5,50.8],[110,52.6],[118,53.1],[124,54.1],[130,53.7],[136,55.8],[146.1,57.1],[154.3,57.2],[166.6,56.6],[180.9,55.6],[203.4,55],[215.6,54.4],[232,54.6],[254.3,55.1]];
// ---------- Tick values and labels
const incomeTicks=[40,60,80,100,120], incomeMinor=d3.range(30,135,5).filter(v=>v%20);
const popTicks=[0,50,100,150,200,250], popMinor=d3.range(0,255,10).filter(v=>v%50);
const ageTicks=[25,30,35,40,45,50], ageMinor=d3.range(25,52,1).filter(v=>v%5);
const ratioTicks=[0,1,2,3,4,5,6,7], ratioMinor=d3.range(0,7.21,.2).filter(v=>Math.abs(v-Math.round(v))>.01);
const incomeYTicks=[0,20,40,60,80,100], incomeYMinor=d3.range(0,106,5).filter(v=>v%20);
const thousands=d=>d===0?"0":d+" 000", plain=d=>String(d);

const svg=d3.select("#c");
// window furniture
svg.append("rect").attr("x",.5).attr("y",2.5).attr("width",2135).attr("height",1524.5).attr("rx",8).attr("fill","#f5f5f5").attr("stroke","#e2e2e2");
svg.append("rect").attr("x",13.5).attr("y",168.5).attr("width",2109).attr("height",1346.5).attr("fill","#fff").attr("stroke","#c9c9c9").attr("stroke-width",2);
const sliders=[{label:"Scaling",y:72,knob:344,value:"10",tx0:222},{label:"SNIP clipping window",y:128,knob:241.5,value:"0",tx0:222}];
sliders.forEach(s=>{
  const g=svg.append("g");
  g.append("text").attr("x",210).attr("y",s.y).attr("dy",".35em").attr("text-anchor","end").attr("font-size",19.3).attr("fill","#333").text(s.label);
  g.append("rect").attr("x",s.tx0).attr("y",s.y-2).attr("width",399).attr("height",6).attr("rx",3).attr("fill","#bcbcbc");
  g.append("circle").attr("cx",s.knob).attr("cy",s.y+1).attr("r",15.5).attr("fill","#fff").attr("stroke","#cfcfcf").attr("stroke-width",1.5);
  g.append("rect").attr("x",629).attr("y",s.y-6).attr("width",14).attr("height",14).attr("fill","#c4c4c4");
  g.append("path").attr("d",`M632 ${s.y+1}H640M636 ${s.y-3}V${s.y+5}`).attr("stroke","#fff").attr("stroke-width",2);
  g.append("text").attr("x",653).attr("y",s.y).attr("dy",".35em").attr("font-size",19.3).attr("fill","#333").text(s.value);
});
svg.append("circle").attr("cx",2113).attr("cy",31).attr("r",9.5).attr("fill","#c4c4c4");
svg.append("path").attr("d","M2108 31H2118M2113 26V36").attr("stroke","#fff").attr("stroke-width",2.5);

const panels=[
 {id:1,box:[116,1055,242,712.3],xd:[25.47,131.7],yd:[-.123,7.283],clipV:6.9,spikeV:30,orig:p1Original,spikes:p1Spikes,med:p1Median,up:p1Upper,lo:p1Lower,xt:incomeTicks,xm:incomeMinor,yt:ratioTicks,ym:ratioMinor,xf:thousands,yf:plain,title:"Case-fatality ratio vs Median Household Income",tp:[584.5,225],xl:"Median Household Income (US dollar)",xlp:[584.5,770],yl:"Median Case-Fatality Ratio",ylp:[69.5,480]},
 {id:2,box:[1135,2055,252,714],xd:[-5.07,254.2],yd:[-.139,7],clipV:6.62,spikeV:30,orig:p2Original,spikes:p2Spikes,med:p2Median,up:p2Upper,lo:p2Lower,xt:popTicks,xm:popMinor,yt:ratioTicks,ym:ratioMinor,xf:thousands,yf:plain,title:"Case-fatality ratio vs Population of 65yrs old and over",tp:[1594,222],xl:"Population of 65yrs old or over",xlp:[1594,771],yl:"Median Case-Fatality Ratio",ylp:[1090,484]},
 {id:3,box:[116,1055,832.3,1304.3],xd:[24.78,51.92],yd:[-.155,7.145],clipV:6.75,spikeV:30,orig:p3Original,spikes:p3Spikes,med:p3Median,up:p3Upper,lo:p3Lower,xt:ageTicks,xm:ageMinor,yt:ratioTicks,ym:ratioMinor,xf:plain,yf:plain,title:"Case-fatality ratio vs Median Age Per County",tp:[584.5,812],xl:"Median Age",xlp:[584.5,1359],yl:"Median Case-Fatality Ratio",ylp:[69.5,1069]},
 {id:4,box:[1193,2055,852.5,1284.3],xd:[-4.8,254.2],yd:[-2.47,106.3],clipV:100.8,spikeV:400,orig:p4Original,spikes:p4Spikes,med:p4Median,up:p4Upper,lo:p4Lower,xt:popTicks,xm:popMinor,yt:incomeYTicks,ym:incomeYMinor,xf:thousands,yf:thousands,title:"Median Household Income vs Population of 65-yrs old or over",tp:[1623,835],xl:"Population of 65-yrs old or over",xlp:[1623,1340],yl:"Median Household Income",ylp:[1090,1069]}
];
const BLUE="#5e81b5",ORANGE="#fb8000",GREY="#5a5a5a";
const defs=svg.append("defs");
panels.forEach(p=>{
  const [L,R,T,B]=p.box;
  const x=d3.scaleLinear().domain(p.xd).range([L,R]);
  const y=d3.scaleLinear().domain(p.yd).range([B,T]);
  const g=svg.append("g");
  defs.append("clipPath").attr("id","f"+p.id).append("rect").attr("x",L).attr("y",T).attr("width",R-L).attr("height",B-T);
  defs.append("clipPath").attr("id","l"+p.id).append("rect").attr("x",L).attr("y",y(p.clipV)).attr("width",R-L).attr("height",B-y(p.clipV));
  const loRev=p.lo.slice().reverse();
  const line=d3.line().x(d=>x(d[0])).y(d=>y(d[1]));
  const inner=g.append("g").attr("clip-path",`url(#f${p.id})`);
  inner.append("path").attr("d",line(p.up.concat(loRev))+"Z").attr("fill","#fee3ca");
  inner.append("path").attr("d",line(p.med)).attr("fill","none").attr("stroke","#000").attr("stroke-width",3.3).attr("stroke-linejoin","miter");
  [p.up,p.lo].forEach(e=>inner.append("path").attr("d",line(e)).attr("fill","none").attr("stroke",ORANGE).attr("stroke-width",4.6).attr("stroke-linejoin","round"));
  const all=p.orig.concat(p.spikes.map(v=>[v,p.spikeV])).sort((a,b)=>d3.ascending(a[0],b[0]));
  g.append("g").attr("clip-path",`url(#l${p.id})`).selectAll("path").data(d3.pairs(all)).join("path")
    .attr("d",d=>line(d)).attr("fill","none").attr("stroke",BLUE).attr("stroke-opacity",.25).attr("stroke-width",3.6);
  inner.append("g").selectAll("circle").data(p.orig).join("circle")
    .attr("cx",d=>x(d[0])).attr("cy",d=>y(d[1])).attr("r",6).attr("fill",BLUE).attr("fill-opacity",.28);
  const axes=[
    [d3.axisBottom(x),B,0,p.xt,p.xm,p.xf,true],[d3.axisTop(x),T,0,p.xt,p.xm,p.xf,false],
    [d3.axisLeft(y),0,L,p.yt,p.ym,p.yf,true],[d3.axisRight(y),0,R,p.yt,p.ym,p.yf,false]];
  axes.forEach(([ax,ty,tx,maj,min,fmt,labelled],i)=>{
    const a=g.append("g").attr("transform",`translate(${tx},${ty})`);
    const m1=a.append("g").call(ax.tickValues(maj).tickSize(-7).tickFormat(labelled?fmt:""));
    const m2=a.append("g").call(ax.tickValues(min).tickSize(-4).tickFormat(""));
    [m1,m2].forEach(s=>{s.select(".domain").remove();s.selectAll("line").attr("stroke","#666").attr("stroke-width",1);});
    if(labelled){
      m1.selectAll("text").attr("font-size",20).attr("fill",GREY).attr("word-spacing","-3px").attr("font-family",'"Liberation Sans",Arial,sans-serif');
      if(i===0) m1.selectAll("text").attr("y",0).attr("dy","0").attr("transform","translate(-1,26)");
      if(i===2) m1.selectAll("text").attr("x",-7).attr("dy",".35em").attr("transform","translate(0,-2)");
    }
  });
  g.append("rect").attr("x",L).attr("y",T).attr("width",R-L).attr("height",B-T).attr("fill","none").attr("stroke","#777").attr("stroke-width",1.2);
  g.append("text").attr("x",p.tp[0]).attr("y",p.tp[1]).attr("dy",".35em").attr("text-anchor","middle").attr("font-size",24).attr("font-weight","bold").attr("fill",GREY).text(p.title);
  g.append("text").attr("x",p.xlp[0]).attr("y",p.xlp[1]).attr("dy",".35em").attr("text-anchor","middle").attr("font-size",20).attr("fill",GREY).text(p.xl);
  g.append("text").attr("transform",`translate(${p.ylp[0]},${p.ylp[1]}) rotate(-90)`).attr("dy",".35em").attr("text-anchor","middle").attr("font-size",20.5).attr("fill",GREY).text(p.yl);
});
// grid frame
svg.append("rect").attr("x",46.5).attr("y",201.5).attr("width",2043.5).attr("height",1183.5).attr("fill","none").attr("stroke","#000").attr("stroke-width",2.5);
svg.append("path").attr("d","M1071 201V1385M46 795H2090").attr("stroke","#000").attr("stroke-width",2.5);
// legend
const legendItems=[{t:"Original data",c:BLUE,s:"#7d8ea8",x:620,y:1417.3},{t:"Moving median using spans of 10 elements",c:"#000",s:"#333",x:620,y:1459.3},{t:"Envelop of moving median",c:ORANGE,s:"#b87a3a",x:1180,y:1459.3}];
const lg=svg.append("g").selectAll("g").data(legendItems).join("g");
lg.append("rect").attr("x",d=>d.x).attr("y",d=>d.y-8.5).attr("width",17).attr("height",17).attr("fill",d=>d.c).attr("stroke",d=>d.s);
lg.append("text").attr("x",d=>d.x+29).attr("y",d=>d.y).attr("dy",".35em").attr("font-size",26).attr("word-spacing",".7px").attr("fill","#111").text(d=>d.t);
</script></body></html>
